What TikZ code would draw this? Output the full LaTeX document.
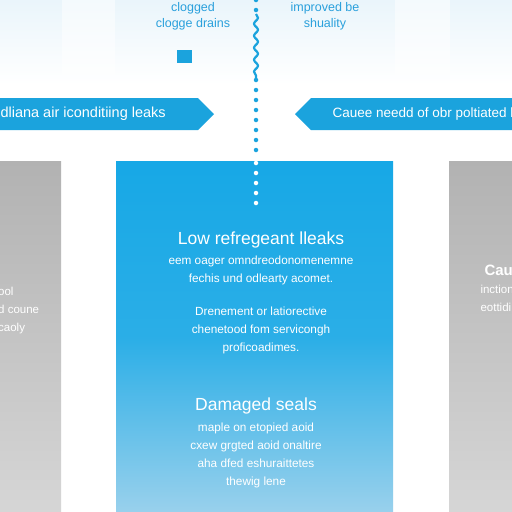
\documentclass[tikz,border=0pt]{standalone}
\usepackage{fontspec}
\setmainfont{Liberation Sans}
\usetikzlibrary{decorations.pathmorphing}
\definecolor{bannerblue}{HTML}{1BA3DD}
\definecolor{boxtop}{HTML}{17A8E6}
\definecolor{boxbot}{HTML}{9AD1EC}
\definecolor{greytop}{HTML}{B2B2B2}
\definecolor{greybot}{HTML}{D6D6D6}
\definecolor{toptext}{HTML}{2AA0DC}
\definecolor{tint}{HTML}{EAF5FB}
\tikzset{
  dotline/.style={line width=4.5pt, line cap=round, dash pattern=on 0pt off 10pt},
  wtitle/.style={text=white, font=\fontsize{17.5}{20}\selectfont, align=center},
  wbody/.style={text=white, font=\fontsize{11.8}{18}\selectfont, align=center},
  toplabel/.style={text=toptext, font=\fontsize{12.5}{16}\selectfont, align=center},
  bantext/.style={text=white, font=\fontsize{14.5}{16}\selectfont, anchor=west},
  greytext/.style={text=white, font=\fontsize{11.5}{18}\selectfont, align=left}
}
\begin{document}
\begin{tikzpicture}[x=1pt,y=-1pt]
\useasboundingbox (0,0) rectangle (512,512);
\clip (0,0) rectangle (512,512);
% background
\fill[white] (0,0) rectangle (512,512);
\shade[top color=tint, bottom color=white] (0,0) rectangle (512,85);
\fill[white,opacity=0.5] (62,0) rectangle (115,75);
\fill[white,opacity=0.5] (395,0) rectangle (450,75);
% top labels
\node[toplabel] (lbl1) at (193,16) {clogged\\clogge drains};
\node[toplabel] (lbl2) at (325,16) {improved be\\shuality};
\fill[bannerblue] (177,50) rectangle (192,63);
% banners
\fill[bannerblue] (0,98) -- (198,98) -- (214,114) -- (198,130) -- (0,130) -- cycle;
\node[bantext] (banL) at (-3,114) {dliana air iconditiing leaks};
\fill[bannerblue] (512,98) -- (311,98) -- (295,114) -- (311,130) -- (512,130) -- cycle;
\node[bantext, font=\fontsize{13.5}{16}\selectfont] (banR) at (329,114) {Cauee needd of obr poltiated bo};
% grey side boxes
\shade[top color=greytop, bottom color=greybot] (-2,161) rectangle (61,514);
\shade[top color=greytop, bottom color=greybot] (449,161) rectangle (514,514);
\node[greytext, anchor=north west, inner sep=0pt] (gl) at (-2,287) {ool\\d coune\\caoly};
\node[text=white, font=\fontsize{15}{18}\selectfont\bfseries, anchor=west] (gr1) at (481,270) {Caus};
\node[greytext, anchor=north west] (gr2) at (477,282) {inction\\eottidi};
% center box
\shade[top color=boxtop, bottom color=boxbot, middle color=boxtop!85!boxbot] (116,161) rectangle (393,514);
% dotted connector
\coordinate (d0) at (256,0);
\coordinate (d1) at (256,14);
\coordinate (d2) at (256,80);
\coordinate (d3) at (256,158);
\coordinate (d4) at (256,210);
\draw[bannerblue, dotline] (d0) -- (d1);
\draw[bannerblue, line width=2.2pt, decorate, decoration={snake, amplitude=2pt, segment length=12pt}] (d1) -- (d2);
\draw[bannerblue, dotline] (d2) -- (d3);
\draw[white, dotline] (256,163) -- (d4);
% texts
\node[wtitle] (t1) at (261,240) {Low refregeant lleaks};
\node[wbody] (b1) at (261,270) {eem oager omndreodonomenemne\\fechis und odlearty acomet.};
\node[wbody] (b2) at (261,330) {Drenement or latiorective\\chenetood fom servicongh\\proficoadimes.};
\node[wtitle] (t2) at (256,406) {Damaged seals};
\node[wbody] (b3) at (256,455) {maple on etopied aoid\\cxew grgted aoid onaltire\\aha dfed eshuraittetes\\thewig lene};
\end{tikzpicture}
\end{document}
